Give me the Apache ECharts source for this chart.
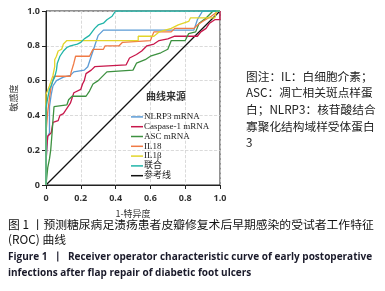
<!DOCTYPE html>
<html>
<head>
<meta charset="utf-8">
<script src="https://cdn.jsdelivr.net/npm/echarts@6/dist/echarts.min.js"></script>
<style>
  html, body { margin: 0; padding: 0; background: #fff; }
  #chart { width: 385px; height: 291px; }
</style>
</head>
<body>
<div id="chart"></div>
<script>
// ROC 曲线数据 [1-特异度, 敏感度]
var seriesNames = ['NLRP3 mRNA', 'Caspase-1 mRNA', 'ASC mRNA', 'IL18', 'IL1β', '联合', '参考线'];
var seriesColors = ['#5b9bd5', '#c8174b', '#3d9140', '#f07a45', '#e2d52a', '#22b5a9', '#111111'];

var nlrp3 = [[0,0],[0,0.14],[0.01,0.28],[0.02,0.3],[0.02,0.45],[0.03,0.52],[0.04,0.57],[0.06,0.6],[0.1,0.62],[0.14,0.63],[0.16,0.65],[0.22,0.66],[0.24,0.68],[0.26,0.74],[0.28,0.8],[0.3,0.86],[0.33,0.89],[0.85,0.89],[0.87,0.95],[0.9,1],[1,1]];
var caspase1 = [[0,0],[0,0.12],[0.005,0.22],[0.01,0.28],[0.03,0.3],[0.04,0.36],[0.07,0.37],[0.08,0.4],[0.1,0.41],[0.12,0.44],[0.14,0.47],[0.15,0.5],[0.16,0.53],[0.2,0.55],[0.21,0.58],[0.22,0.6],[0.23,0.64],[0.26,0.66],[0.28,0.68],[0.46,0.69],[0.48,0.73],[0.52,0.75],[0.55,0.77],[0.58,0.8],[0.62,0.81],[0.65,0.83],[0.7,0.84],[0.74,0.855],[0.87,0.855],[0.89,0.88],[0.92,0.9],[0.94,0.93],[0.97,0.95],[1,0.95],[1,1]];
var asc = [[0,0],[0.01,0.1],[0.02,0.15],[0.027,0.2],[0.035,0.3],[0.04,0.37],[0.046,0.45],[0.12,0.46],[0.13,0.49],[0.15,0.51],[0.23,0.51],[0.25,0.54],[0.27,0.58],[0.3,0.6],[0.33,0.63],[0.35,0.65],[0.5,0.66],[0.52,0.7],[0.57,0.72],[0.6,0.74],[0.66,0.76],[0.7,0.78],[0.72,0.83],[0.8,0.83],[0.82,0.87],[0.86,0.88],[0.88,0.93],[0.92,0.96],[0.96,1],[1,1]];
var il18 = [[0,0],[0,0.3],[0.01,0.42],[0.02,0.5],[0.03,0.57],[0.046,0.625],[0.14,0.625],[0.145,0.65],[0.16,0.7],[0.17,0.74],[0.25,0.74],[0.27,0.78],[0.33,0.78],[0.34,0.8],[0.42,0.8],[0.44,0.82],[0.6,0.83],[0.62,0.88],[0.72,0.88],[0.74,0.9],[0.85,0.9],[0.87,0.92],[0.9,0.94],[0.95,0.97],[0.99,1],[1,1]];
var il1b = [[0,0],[0,0.52],[0.01,0.52],[0.02,0.57],[0.03,0.6],[0.04,0.63],[0.05,0.68],[0.05,0.72],[0.06,0.74],[0.07,0.77],[0.09,0.78],[0.1,0.81],[0.12,0.83],[0.53,0.83],[0.53,0.855],[0.62,0.855],[0.65,0.88],[0.72,0.9],[0.76,0.92],[0.82,0.94],[0.83,0.96],[0.97,0.96],[0.98,1],[1,1]];
var combined = [[0,0],[0,0.44],[0.01,0.5],[0.02,0.55],[0.03,0.57],[0.04,0.6],[0.05,0.62],[0.06,0.66],[0.065,0.7],[0.08,0.74],[0.1,0.77],[0.12,0.79],[0.14,0.8],[0.18,0.81],[0.2,0.82],[0.22,0.84],[0.25,0.86],[0.28,0.9],[0.3,0.92],[0.33,0.93],[0.35,0.95],[0.38,0.97],[0.4,1],[1,1]];
var refLine = [[0,0],[1,1]];

var seriesData = [nlrp3, caspase1, asc, il18, il1b, combined, refLine];

var noteText = '图注：IL：白细胞介素；\nASC：凋亡相关斑点样蛋\n白；NLRP3：核苷酸结合\n寡聚化结构域样受体蛋白\n3';

var myChart = echarts.init(document.getElementById('chart'));

var cjk = '"Noto Sans CJK SC", "Noto Sans", sans-serif';
var axisLabelFmt = function (v) { return v === 0 ? '0' : v.toFixed(1); };

var series = [];
for (var i = 0; i < seriesNames.length; i++) {
  series.push({
    name: seriesNames[i],
    type: 'line',
    data: seriesData[i],
    showSymbol: false,
    symbol: 'none',
    animation: false,
    z: i === 6 ? 1 : 2 + i,
    lineStyle: { color: seriesColors[i], width: 1.3 },
    itemStyle: { color: seriesColors[i] }
  });
}

var option = {
  backgroundColor: '#fff',
  animation: false,
  grid: {
    left: 46, top: 11, width: 174, height: 174,
    show: true, borderColor: '#222', borderWidth: 1
  },
  xAxis: {
    type: 'value', min: 0, max: 1, interval: 0.2,
    name: '1-特异度', nameLocation: 'middle', nameGap: 24,
    nameTextStyle: { fontSize: 9, color: '#333', fontFamily: cjk },
    axisLine: { show: true, lineStyle: { color: '#222' } },
    axisTick: { show: true, length: 4, lineStyle: { color: '#222' } },
    axisLabel: { fontSize: 9, color: '#333', fontWeight: 'bold', margin: 9, formatter: axisLabelFmt, fontFamily: 'Open Sans' },
    splitLine: { show: true, lineStyle: { color: '#d0d0d0', type: 'dashed', width: 0.8 } }
  },
  yAxis: {
    type: 'value', min: 0, max: 1, interval: 0.2,
    name: '敏感度', nameLocation: 'middle', nameGap: 28,
    nameTextStyle: { fontSize: 9, color: '#333', fontFamily: cjk },
    axisLine: { show: true, lineStyle: { color: '#222' } },
    axisTick: { show: true, length: 4, lineStyle: { color: '#222' } },
    axisLabel: { fontSize: 9, color: '#333', fontWeight: 'bold', margin: 6, formatter: axisLabelFmt, fontFamily: 'Open Sans' },
    splitLine: { show: true, lineStyle: { color: '#d0d0d0', type: 'dashed', width: 0.8 } }
  },
  legend: {
    orient: 'vertical',
    left: 126, top: 107,
    data: seriesNames,
    icon: 'rect',
    itemWidth: 12, itemHeight: 1.5,
    itemGap: 0,
    selectedMode: false,
    textStyle: { fontSize: 9, lineHeight: 9.8, color: '#222', fontFamily: '"Liberation Serif", "Noto Sans CJK SC", serif', padding: [0, 0, 0, -4] }
  },
  graphic: [
    { type: 'text', left: 146, top: 91, style: { text: '曲线来源', fill: '#333', font: 'bold 10px "Noto Sans CJK SC"' } },
    { type: 'text', left: 246, top: 68, style: { text: noteText, fill: '#222', font: '11.7px "Noto Sans CJK SC"', lineHeight: 16.6 } },
    { type: 'text', left: 8, top: 219, style: { text: '图 1 丨预测糖尿病足溃疡患者皮瓣修复术后早期感染的受试者工作特征', fill: '#111', font: '11.8px "Noto Sans CJK SC"' } },
    { type: 'text', left: 8, top: 234, style: { text: '(ROC) 曲线', fill: '#111', font: '11.8px "Noto Sans CJK SC"' } },
    { type: 'text', left: 8, top: 252, style: { text: 'Figure 1  丨  Receiver operator characteristic curve of early postoperative', fill: '#1a1a2a', font: 'bold 10px "Open Sans"' } },
    { type: 'text', left: 8, top: 268, style: { text: 'infections after flap repair of diabetic foot ulcers', fill: '#1a1a2a', font: 'bold 10px "Open Sans"' } }
  ],
  series: series
};

myChart.setOption(option);
</script>
</body>
</html>
